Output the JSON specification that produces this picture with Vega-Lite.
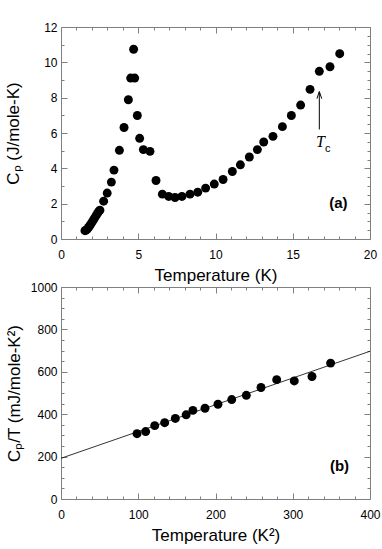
{
  "$schema": "https://vega.github.io/schema/vega-lite/v6.json",
  "padding": {"left": 4, "top": 20, "right": 2, "bottom": 2},
  "background": "white",
  "config": {
    "font": "Liberation Sans",
    "view": {"stroke": "#808080", "strokeWidth": 1},
    "axis": {
      "domain": false, "grid": false, "labelFont": "Liberation Sans", "labelFontSize": 12, "labelColor": "black",
      "titleFont": "Liberation Sans", "titleFontSize": 17, "titleFontWeight": "normal", "titleColor": "black",
      "tickColor": "#808080", "tickWidth": 1, "labelOverlap": false, "labelFlush": false
    }
  },
  "bounds": "flush",
  "spacing": 48,
  "vconcat": [
    {
      "width": 309, "height": 212,
      "layer": [
        {
          "data": {"values": [
            {"T":1.55,"Cp":0.47},{"T":1.62,"Cp":0.5},{"T":1.7,"Cp":0.56},{"T":1.78,"Cp":0.65},{"T":1.86,"Cp":0.75},
            {"T":1.94,"Cp":0.86},{"T":2.02,"Cp":0.97},{"T":2.1,"Cp":1.08},{"T":2.18,"Cp":1.2},{"T":2.27,"Cp":1.32},
            {"T":2.36,"Cp":1.45},{"T":2.45,"Cp":1.57},{"T":2.52,"Cp":1.63},{"T":2.76,"Cp":2.14},{"T":2.99,"Cp":2.6},
            {"T":3.26,"Cp":3.22},{"T":3.43,"Cp":3.9},{"T":3.78,"Cp":5.02},{"T":4.08,"Cp":6.31},{"T":4.36,"Cp":7.88},
            {"T":4.51,"Cp":9.11},{"T":4.77,"Cp":9.11},{"T":4.7,"Cp":10.74},{"T":4.94,"Cp":6.99},{"T":5.09,"Cp":5.7},
            {"T":5.33,"Cp":5.06},{"T":5.76,"Cp":4.96},{"T":6.15,"Cp":3.31},{"T":6.56,"Cp":2.54},{"T":6.97,"Cp":2.41},
            {"T":7.38,"Cp":2.35},{"T":7.83,"Cp":2.41},{"T":8.35,"Cp":2.54},{"T":8.85,"Cp":2.65},{"T":9.36,"Cp":2.88},
            {"T":9.92,"Cp":3.11},{"T":10.49,"Cp":3.37},{"T":11.09,"Cp":3.82},{"T":11.61,"Cp":4.2},{"T":12.19,"Cp":4.64},
            {"T":12.71,"Cp":5.06},{"T":13.12,"Cp":5.49},{"T":13.72,"Cp":5.81},{"T":14.33,"Cp":6.36},{"T":14.91,"Cp":6.99},
            {"T":15.51,"Cp":7.58},{"T":16.12,"Cp":8.47},{"T":16.72,"Cp":9.49},{"T":17.41,"Cp":9.75},{"T":18.04,"Cp":10.49}
          ]},
          "mark": {"type": "circle", "size": 80, "opacity": 1, "color": "black"},
          "encoding": {
            "x": {"field": "T", "type": "quantitative", "scale": {"domain": [0, 20], "nice": false},
              "axis": {"orient": "bottom", "title": "Temperature (K)", "format": "d", "values": [0,1,2,3,4,5,6,7,8,9,10,11,12,13,14,15,16,17,18,19,20],
                "tickSize": {"condition": {"test": "datum.value % 5 === 0", "value": -6}, "value": -3},
                "labelExpr": "datum.value % 5 === 0 ? datum.label : ''", "labelPadding": 16, "titlePadding": 4}},
            "y": {"field": "Cp", "type": "quantitative", "scale": {"domain": [0, 12], "nice": false},
              "axis": {"orient": "left", "title": "Cₚ (J/mole-K)", "format": "d", "values": [0,0.5,1,1.5,2,2.5,3,3.5,4,4.5,5,5.5,6,6.5,7,7.5,8,8.5,9,9.5,10,10.5,11,11.5,12],
                "tickSize": {"condition": {"test": "datum.value % 2 === 0", "value": -6}, "value": -3},
                "labelExpr": "datum.value % 2 === 0 ? datum.label : ''", "labelPadding": 10, "titlePadding": 21}}
          }
        },
        {
          "data": {"values": [{"x": 17.95, "y": 2.05, "label": "(a)"}]},
          "mark": {"type": "text", "fontSize": 15, "fontWeight": "bold", "font": "Liberation Sans", "align": "center", "baseline": "middle", "color": "black"},
          "encoding": {
            "x": {"field": "x", "type": "quantitative",
              "axis": {"orient": "top", "title": null, "labels": false, "values": [0,1,2,3,4,5,6,7,8,9,10,11,12,13,14,15,16,17,18,19,20],
                "tickSize": {"condition": {"test": "datum.value % 5 === 0", "value": -6}, "value": -3}}},
            "y": {"field": "y", "type": "quantitative",
              "axis": {"orient": "right", "title": null, "labels": false, "values": [0,0.5,1,1.5,2,2.5,3,3.5,4,4.5,5,5.5,6,6.5,7,7.5,8,8.5,9,9.5,10,10.5,11,11.5,12],
                "tickSize": {"condition": {"test": "datum.value % 2 === 0", "value": -6}, "value": -3}}},
            "text": {"field": "label"}
          }
        },
        {
          "data": {"values": [{"x": 16.79, "y": 5.23, "label": "T"}]},
          "mark": {"type": "text", "fontSize": 16, "fontStyle": "italic", "font": "Liberation Serif", "align": "center", "baseline": "alphabetic", "color": "black"},
          "encoding": {
            "x": {"field": "x", "type": "quantitative", "axis": null},
            "y": {"field": "y", "type": "quantitative", "axis": null},
            "text": {"field": "label"}
          }
        },
        {
          "data": {"values": [{"x": 17.08, "y": 4.94, "label": "c"}]},
          "mark": {"type": "text", "fontSize": 11, "font": "Liberation Sans", "align": "left", "baseline": "alphabetic", "color": "black"},
          "encoding": {
            "x": {"field": "x", "type": "quantitative", "axis": null},
            "y": {"field": "y", "type": "quantitative", "axis": null},
            "text": {"field": "label"}
          }
        },
        {
          "data": {"values": [{"x": 16.72, "y1": 6.2, "y2": 8.3}]},
          "mark": {"type": "rule", "color": "black", "strokeWidth": 1},
          "encoding": {
            "x": {"field": "x", "type": "quantitative", "axis": null},
            "y": {"field": "y1", "type": "quantitative", "axis": null},
            "y2": {"field": "y2"}
          }
        },
        {
          "data": {"values": [{"x": 16.72, "y": 8.35}]},
          "mark": {"type": "point", "shape": "M-0.8,2.4L0,0L0.8,2.4", "filled": false, "size": 36, "stroke": "black", "strokeWidth": 1, "opacity": 1},
          "encoding": {
            "x": {"field": "x", "type": "quantitative", "axis": null},
            "y": {"field": "y", "type": "quantitative", "axis": null}
          }
        }
      ],
      "resolve": {"axis": {"x": "independent", "y": "independent"}}
    },
    {
      "width": 309, "height": 212,
      "layer": [
        {
          "data": {"values": [
            {"T2":98.4,"CpT":308},{"T2":109.6,"CpT":318},{"T2":121.3,"CpT":346},{"T2":134.2,"CpT":360},
            {"T2":148,"CpT":380},{"T2":162,"CpT":397},{"T2":170.7,"CpT":418},{"T2":186.4,"CpT":428},
            {"T2":203.2,"CpT":447},{"T2":221,"CpT":469},{"T2":239.9,"CpT":489},{"T2":258.9,"CpT":526},
            {"T2":279.2,"CpT":563},{"T2":302,"CpT":557},{"T2":324.9,"CpT":578},{"T2":349,"CpT":641}
          ]},
          "mark": {"type": "circle", "size": 80, "opacity": 1, "color": "black"},
          "encoding": {
            "x": {"field": "T2", "type": "quantitative", "scale": {"domain": [0, 400], "nice": false},
              "axis": {"orient": "bottom", "title": "Temperature (K²)", "format": "d", "values": [0,20,40,60,80,100,120,140,160,180,200,220,240,260,280,300,320,340,360,380,400],
                "tickSize": {"condition": {"test": "datum.value % 100 === 0", "value": -6}, "value": -3},
                "labelExpr": "datum.value % 100 === 0 ? datum.label : ''", "labelPadding": 16, "titlePadding": 4}},
            "y": {"field": "CpT", "type": "quantitative", "scale": {"domain": [0, 1000], "nice": false},
              "axis": {"orient": "left", "title": "Cₚ/T (mJ/mole-K²)", "format": "d", "values": [0,50,100,150,200,250,300,350,400,450,500,550,600,650,700,750,800,850,900,950,1000],
                "tickSize": {"condition": {"test": "datum.value % 200 === 0", "value": -6}, "value": -3},
                "labelExpr": "datum.value % 200 === 0 ? datum.label : ''", "labelPadding": 10, "titlePadding": 7}}
          }
        },
        {
          "data": {"values": [{"x": 0, "y": 192}, {"x": 400, "y": 697}]},
          "mark": {"type": "line", "color": "black", "strokeWidth": 0.8},
          "encoding": {
            "x": {"field": "x", "type": "quantitative",
              "axis": {"orient": "top", "title": null, "labels": false, "values": [0,20,40,60,80,100,120,140,160,180,200,220,240,260,280,300,320,340,360,380,400],
                "tickSize": {"condition": {"test": "datum.value % 100 === 0", "value": -6}, "value": -3}}},
            "y": {"field": "y", "type": "quantitative",
              "axis": {"orient": "right", "title": null, "labels": false, "values": [0,50,100,150,200,250,300,350,400,450,500,550,600,650,700,750,800,850,900,950,1000],
                "tickSize": {"condition": {"test": "datum.value % 200 === 0", "value": -6}, "value": -3}}}
          }
        },
        {
          "data": {"values": [{"x": 360.5, "y": 157, "label": "(b)"}]},
          "mark": {"type": "text", "fontSize": 15, "fontWeight": "bold", "font": "Liberation Sans", "align": "center", "baseline": "middle", "color": "black"},
          "encoding": {
            "x": {"field": "x", "type": "quantitative", "axis": null},
            "y": {"field": "y", "type": "quantitative", "axis": null},
            "text": {"field": "label"}
          }
        }
      ],
      "resolve": {"axis": {"x": "independent", "y": "independent"}}
    }
  ]
}
